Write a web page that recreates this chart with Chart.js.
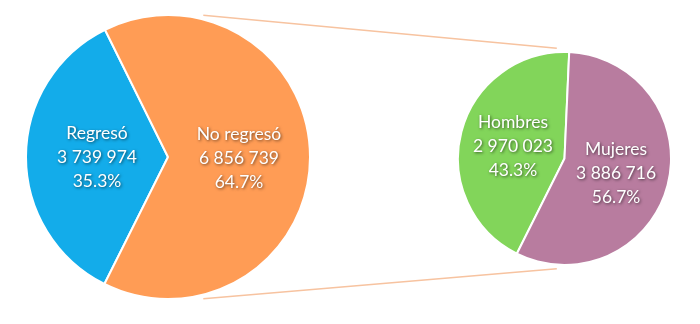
<!DOCTYPE html>
<html>
<head>
<meta charset="utf-8">
<script src="https://cdn.jsdelivr.net/npm/chart.js@4"></script>
<style>
  body{margin:0;background:#fff;}
  #wrap{position:relative;width:700px;height:324px;}
  #total{position:absolute;left:0;top:0;}
  #sub{position:absolute;left:457px;top:51px;}
</style>
</head>
<body>
<div id="wrap">
  <canvas id="total" width="700" height="324"></canvas>
  <canvas id="sub" width="215" height="215"></canvas>
</div>
<script>
// datos
var totalLabels = ['Regresó', 'No regresó'];
var totalValues = [3739974, 6856739];
var totalPct = ['35.3%', '64.7%'];
var totalColors = ['#13ACEA', '#FF9C55'];

var subLabels = ['Hombres', 'Mujeres'];
var subValues = [2970023, 3886716];
var subPct = ['43.3%', '56.7%'];
var subColors = ['#82D55A', '#B87C9F'];

function fmt(n){
	return String(n).replace(/\B(?=(\d{3})+(?!\d))/g, ' ');
}

// etiquetas dentro de cada rebanada
var sliceLabels = {
	id:'sliceLabels',
	afterDatasetsDraw:function(chart){
		var c = chart.ctx;
		var ds = chart.data.datasets[0];
		var meta = chart.getDatasetMeta(0);
		c.save();
		c.font = '17.5px Lato';
		c.fillStyle = '#fff';
		c.textAlign = 'center';
		c.textBaseline = 'middle';
		c.shadowColor = 'rgba(0,0,0,0.6)';
		c.shadowOffsetX = 1;
		c.shadowOffsetY = 1;
		c.shadowBlur = 3;
		meta.data.forEach(function(arc, i){
			var p = arc.tooltipPosition();
			var lines = [chart.data.labels[i], fmt(ds.data[i]), ds.pct[i]];
			for(var k=0;k<3;k++){
				c.fillText(lines[k], p.x, p.y + 1 + (k-1)*24);
			}
		});
		c.restore();
	}
};

var subChart = new Chart(document.getElementById('sub'),{
	type:'pie',
	data:{
		labels:subLabels,
		datasets:[{
			data:subValues,
			pct:subPct,
			backgroundColor:subColors,
			borderColor:'#fff',
			borderWidth:2
		}]
	},
	options:{
		responsive:false,
		animation:false,
		rotation:206.6,
		layout:{padding:0},
		plugins:{legend:{display:false},tooltip:{enabled:false}}
	},
	plugins:[sliceLabels]
});

// lineas que unen las dos tortas
var connectors = {
	id:'connectors',
	beforeDatasetsDraw:function(chart){
		var a = chart.getDatasetMeta(0).data[0];
		var b = subChart.getDatasetMeta(0).data[0];
		var cv = document.getElementById('sub');
		var bx = cv.offsetLeft + b.x, by = cv.offsetTop + b.y;
		var ra = a.outerRadius + 4, rb = b.outerRadius + 4;
		var c = chart.ctx;
		c.save();
		c.strokeStyle = '#F7C3A0';
		c.lineWidth = 1.5;
		[[14, -4], [166, 184]].forEach(function(ang){
			var t1 = ang[0]*Math.PI/180, t2 = ang[1]*Math.PI/180;
			c.beginPath();
			c.moveTo(a.x + ra*Math.sin(t1), a.y - ra*Math.cos(t1));
			c.lineTo(bx + rb*Math.sin(t2), by - rb*Math.cos(t2));
			c.stroke();
		});
		c.restore();
	}
};

var totalChart = new Chart(document.getElementById('total'),{
	type:'pie',
	data:{
		labels:totalLabels,
		datasets:[{
			data:totalValues,
			pct:totalPct,
			backgroundColor:totalColors,
			borderColor:'#fff',
			borderWidth:2
		}]
	},
	options:{
		responsive:false,
		animation:false,
		rotation:206.6,
		layout:{padding:{left:25,right:389,top:14,bottom:24}},
		plugins:{legend:{display:false},tooltip:{enabled:false}}
	},
	plugins:[connectors, sliceLabels]
});
</script>
</body>
</html>
